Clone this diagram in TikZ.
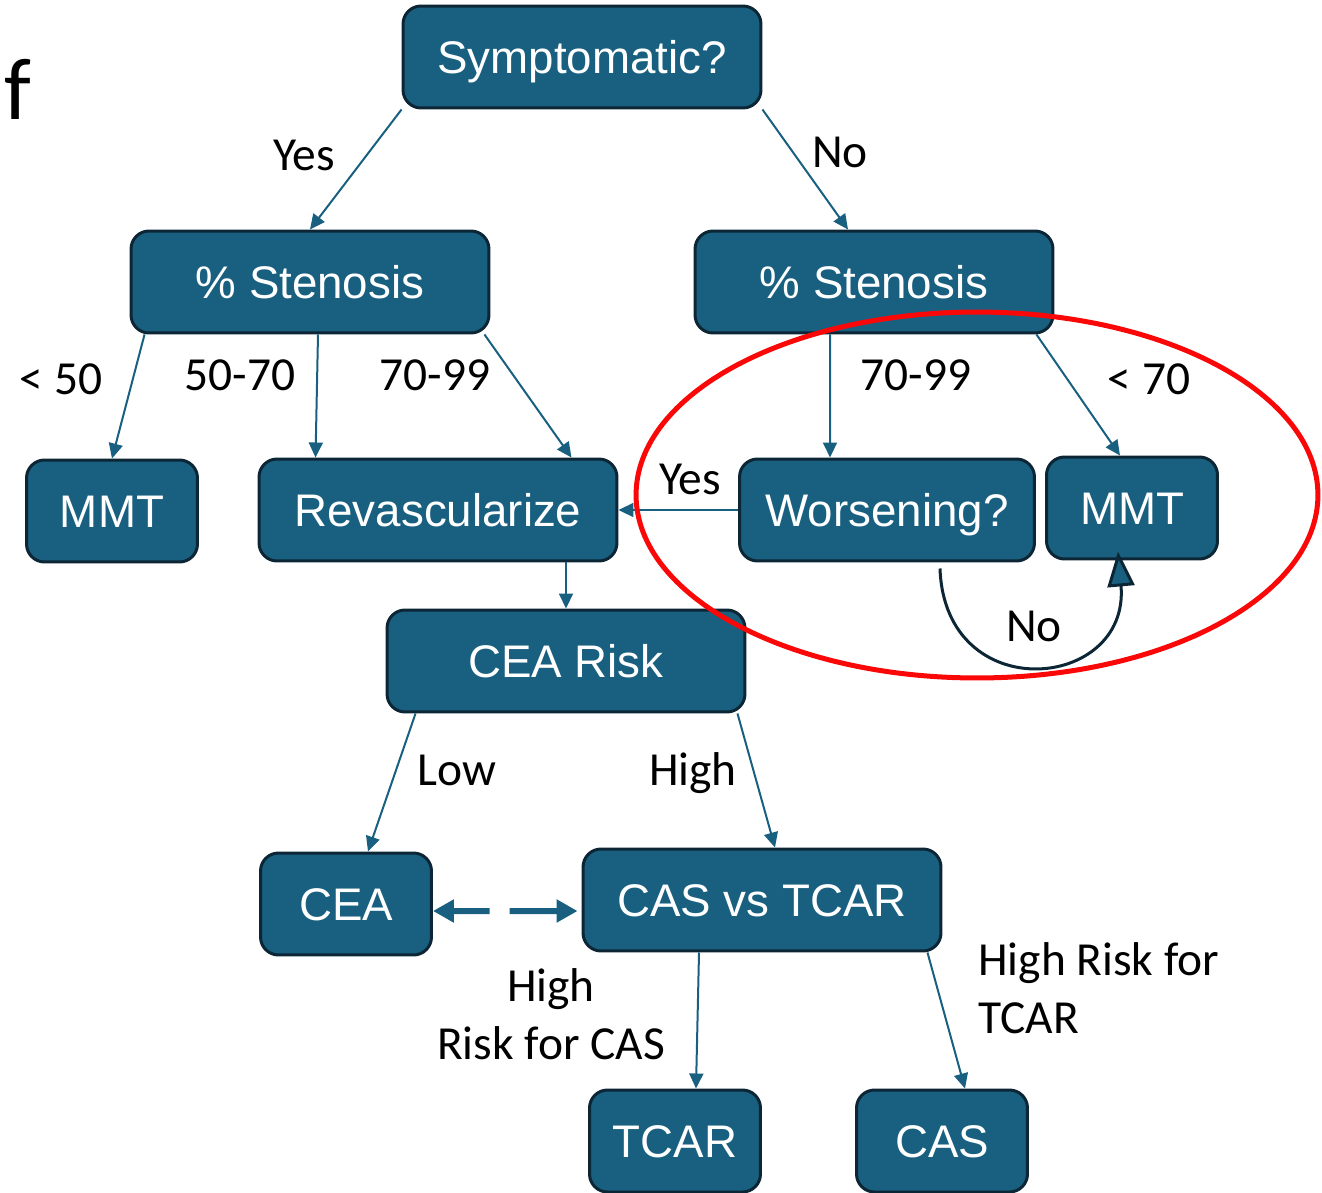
\documentclass[tikz,border=0pt]{standalone}
\usepackage{fontspec}
\setmainfont{Carlito}
\newfontfamily\boxfont{Liberation Sans}
\usepackage{xcolor}
\usepackage{tikz}
\usetikzlibrary{arrows.meta}
\definecolor{boxblue}{RGB}{25,96,128}
\definecolor{boxedge}{RGB}{12,38,54}
\definecolor{ringred}{RGB}{250,8,8}

\begin{document}
\begin{tikzpicture}[x=0.02cm,y=-0.02cm,
    box/.style={draw=boxedge,line width=0.06cm,fill=boxblue,rounded corners=0.36cm,
        text=white,font=\boxfont\fontsize{26}{30}\selectfont,inner sep=0pt,
        text height=18.7pt,text depth=0pt,
        minimum width=7.16cm,minimum height=2.04cm},
    smallbox/.style={box,minimum width=3.42cm},
    lbl/.style={font=\fontsize{27}{33}\selectfont,inner sep=0pt,anchor=base},
    link/.style={-{Triangle[length=0.3cm,width=0.28cm]},line width=0.04cm,boxblue}]
    \useasboundingbox (0,0) rectangle (1322,1193);

    \node[font=\fontsize{50}{50}\selectfont,inner sep=0pt,anchor=base] (panel) at (18,120) {f};

    \node[box] (sym) at (582,57) {Symptomatic?};
    \node[box] (stenL) at (310,282) {\% Stenosis};
    \node[box] (stenR) at (874,282) {\% Stenosis};
    \node[smallbox] (mmtL) at (112,511) {MMT};
    \node[box] (revasc) at (438,510) {Revascularize};
    \node[box,minimum width=5.9cm] (wors) at (887,510) {Worsening?};
    \node[smallbox] (mmtR) at (1132,508) {MMT};
    \node[box] (risk) at (566,661) {CEA Risk};
    \node[smallbox] (cea) at (346,904) {CEA};
    \node[box] (casTcar) at (762,900) {CAS vs TCAR};
    \node[smallbox] (tcar) at (675,1141) {TCAR};
    \node[smallbox] (cas) at (942,1141) {CAS};

    \draw[link] (sym.south west) -- (stenL.north);
    \draw[link] (sym.south east) -- ([xshift=-0.52cm]stenR.north);
    \draw[link] ([xshift=0.3cm]stenL.south west) -- (mmtL.north);
    \draw[link] ([xshift=0.16cm]stenL.south) -- ([xshift=1.16cm]revasc.north west);
    \draw[link] ([xshift=-0.12cm]stenL.south east) -- ([xshift=-0.94cm]revasc.north east);
    \draw[link] ([xshift=-0.88cm]stenR.south) -- ([xshift=-1.14cm]wors.north);
    \draw[link] ([xshift=-0.36cm]stenR.south east) -- ([xshift=-0.24cm]mmtR.north);
    \draw[link] (wors.west) -- (revasc.east);
    \draw[link] (revasc.south -| risk.north) -- (risk.north);
    \draw[link] ([xshift=0.6cm]risk.south west) -- ([xshift=0.44cm]cea.north);
    \draw[link] ([xshift=-0.18cm]risk.south east) -- ([xshift=0.26cm]casTcar.north);
    \draw[link] ([xshift=-1.26cm]casTcar.south) -- ([xshift=0.42cm]tcar.north);
    \draw[link] ([xshift=-0.3cm]casTcar.south east) -- ([xshift=0.46cm]cas.north);

    \draw[boxblue,line width=0.12cm,dash pattern=on 0.74cm off 0.4cm on 3cm,
        {Triangle[length=0.42cm,width=0.44cm]}-{Triangle[length=0.42cm,width=0.44cm]}]
        ([yshift=-0.14cm]cea.east) -- ([xshift=-0.08cm,yshift=-0.22cm]casTcar.west);

    \draw[boxedge,line width=0.06cm,-{Triangle[length=0.7cm,width=0.54cm,fill=boxblue]}]
        ([xshift=1.06cm,yshift=-0.12cm]wors.south) to[out=-88,in=-85,looseness=2]
        ([xshift=-0.28cm,yshift=0.18cm]mmtR.south);

    \node[lbl] (yesL) at (304,171) {Yes};
    \node[lbl] (noR) at (840,168) {No};
    \node[lbl] (lt50) at (61,394) {< 50};
    \node[lbl] (mid) at (240,390) {50-70};
    \node[lbl] (highL) at (435,390) {70-99};
    \node[lbl] (highR) at (916,390) {70-99};
    \node[lbl] (lt70) at (1149,394) {< 70};
    \node[lbl] (yesW) at (690,494) {Yes};
    \node[lbl] (noW) at (1034,641) {No};
    \node[lbl] (low) at (457,785) {Low};
    \node[lbl] (high) at (693,785) {High};
    \node[lbl,align=center,anchor=north] (forCas) at (551,968) {High\\Risk for CAS};
    \node[lbl,align=left,anchor=north west] (forTcar) at (978,942) {High Risk for\\TCAR};

    \draw[ringred,line width=0.1cm] (977,495) ellipse [x radius=6.82cm,y radius=3.66cm];
\end{tikzpicture}
\end{document}
